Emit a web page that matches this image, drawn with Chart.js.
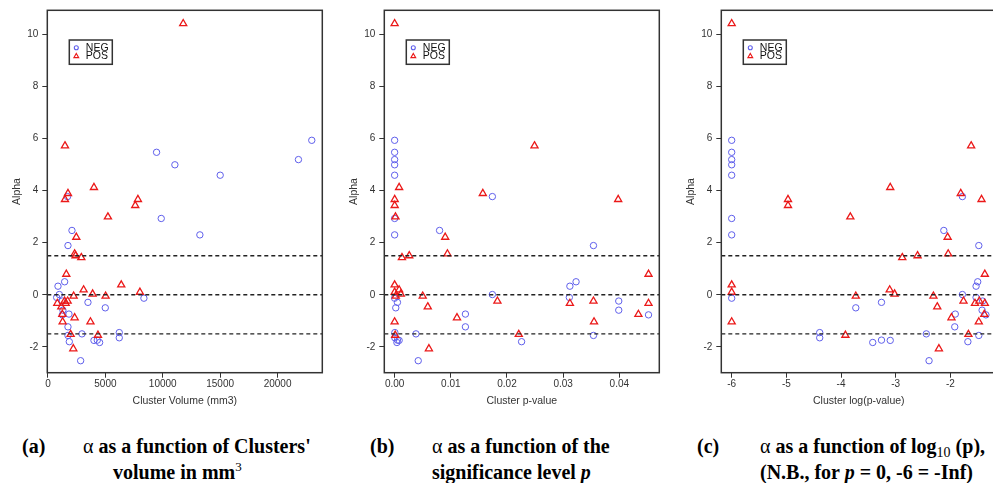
<!DOCTYPE html>
<html><head><meta charset="utf-8">
<script src="https://cdn.jsdelivr.net/npm/chart.js@4.4.1/dist/chart.umd.min.js"></script>
<style>
html,body{margin:0;padding:0;background:#fff;overflow:hidden;width:993px;height:483px;position:relative;}
.wrap{position:absolute;top:0;width:330px;height:410px;}
.wrap canvas{display:block;}
.cap{position:absolute;font-family:"Liberation Serif","Times New Roman",serif;font-weight:bold;font-size:20px;line-height:26px;color:#000;white-space:nowrap;}
.alpha{font-weight:normal;}
.sup{font-size:13px;font-weight:normal;position:relative;top:-8px;}
.sub{font-size:14px;font-weight:normal;position:relative;top:4px;}
</style></head><body>
<div class="wrap" style="left:0px"><canvas id="cA" width="330" height="410"></canvas></div>
<div class="wrap" style="left:337px"><canvas id="cB" width="330" height="410"></canvas></div>
<div class="wrap" style="left:674px"><canvas id="cC" width="330" height="410"></canvas></div>

<div class="cap" style="left:22px;top:433px">(a)</div>
<div class="cap" style="left:83px;top:433px"><span class="alpha">α</span> as a function of Clusters'</div>
<div class="cap" style="left:113px;top:459px">volume in mm<span class="sup">3</span></div>

<div class="cap" style="left:370px;top:433px">(b)</div>
<div class="cap" style="left:432px;top:433px"><span class="alpha">α</span> as a function of the</div>
<div class="cap" style="left:432px;top:459px">significance level <i>p</i></div>

<div class="cap" style="left:697px;top:433px">(c)</div>
<div class="cap" style="left:760px;top:433px"><span class="alpha">α</span> as a function of log<span class="sub">10</span> (p),</div>
<div class="cap" style="left:760px;top:459px">(N.B., for <i>p</i> = 0, -6 = -Inf)</div>

<script>
// ---------------- data ----------------
const seriesNames = ['NEG', 'POS'];

const negAlpha  = [5.93, 5.47, 5.19, 4.99, 4.59, 2.93, 2.30, -0.13, -1.45, -1.65, -0.50, -1.83, -1.74, -0.29, -1.75, -1.50, -2.53, 2.47, -0.74, -1.23, 3.77, 0.01, -1.80, 1.89, 0.50, 0.33, -0.10, -0.24, -0.59, -1.56, -0.77];
const negVolume = [22983, 9460, 21822, 11056, 15003, 9866, 13233, 8357, 6210, 6210, 4991, 4498, 4295, 3482, 4005, 2960, 2844, 2089, 1828, 1741, 1700, 987, 1857, 1741, 1451, 871, 755, 1248, 1300, 1741, 1250];
const negPValue = [0, 0, 0, 0, 0, 0, 0, 0, 0.00004, 0.00004, 0.0002, 0.0004, 0.0005, 0.0005, 0.0008, 0.0038, 0.0042, 0.0080, 0.0126, 0.0126, 0.0174, 0.0174, 0.0226, 0.0354, 0.0323, 0.0312, 0.0311, 0.0399, 0.0399, 0.0354, 0.0452];
const negLogP   = [-6, -6, -6, -6, -6, -6, -6, -6, -4.39, -4.39, -3.73, -3.42, -3.26, -3.26, -3.10, -2.44, -2.39, -2.12, -1.91, -1.92, -1.78, -1.78, -1.68, -1.48, -1.50, -1.53, -1.53, -1.41, -1.42, -1.48, -1.35];

const posAlpha  = [10.41, 5.72, 4.12, 3.89, 3.66, 3.43, 3.66, 2.99, 2.21, 1.57, 1.43, 1.50, 0.38, 0.10, 0.19, 0.03, -0.05, -0.05, -0.46, -2.07, -0.88, -0.24, -1.52, -0.33, -0.24, -1.04, 0.79, -0.33, -0.75, -1.04, -1.55];
const posVolume = [11782, 1480, 4005, 1741, 1480, 7603, 7835, 5223, 2467, 2322, 2902, 2400, 6384, 8009, 3105, 3889, 5020, 2234, 1161, 2205, 2322, 1712, 1973, 813, 1450, 3700, 1596, 1538, 1248, 1277, 4353];
const posPValue = [0, 0.0249, 0.0008, 0.0157, 0.00001, 0.00001, 0.0398, 0.00015, 0.0090, 0.0094, 0.0013, 0.0026, 0, 0, 0.0008, 0.0011, 0.0002, 0.0050, 0.0059, 0.0061, 0.0111, 0.0183, 0.0221, 0.0312, 0.0354, 0.0355, 0.0452, 0.0452, 0.0434, 0, 0.0001];
const posLogP   = [-6, -1.62, -3.10, -1.81, -4.97, -4.97, -1.43, -3.83, -2.05, -2.04, -2.88, -2.60, -6, -6, -3.11, -3.02, -3.73, -2.31, -2.24, -2.21, -1.98, -1.76, -1.67, -1.55, -1.47, -1.48, -1.37, -1.37, -1.38, -6, -3.92];

const thresholds   = [-1.5, 0, 1.5];
const alphaTicks   = [-2, 0, 2, 4, 6, 8, 10];
const volumeTicks  = [0, 5000, 10000, 15000, 20000];
const pValueTicks  = [0, 0.01, 0.02, 0.03, 0.04];
const logPTicks    = [-6, -5, -4, -3, -2];
const xTitles      = ['Cluster Volume (mm3)', 'Cluster p-value', 'Cluster log(p-value)'];
const yTitle       = 'Alpha';

// ---------------- styling ----------------
const NEG_COLOR = 'rgb(95,95,235)';
const POS_COLOR = 'rgb(235,25,25)';
const AXIS_COLOR = '#333';
const FONT = '"Liberation Sans", Arial, sans-serif';
const Y_MIN = -2.99, Y_MAX = 10.92;

const framePlugin = {
  id: 'rframe',
  afterDraw(chart) {
    const {ctx, chartArea: ca} = chart;
    ctx.save();
    ctx.strokeStyle = AXIS_COLOR;
    ctx.lineWidth = 1.5;
    ctx.strokeRect(ca.left, ca.top, ca.right - ca.left, ca.bottom - ca.top);
    // legend box (R style)
    const x = ca.left + 22, y = ca.top + 29.7, w = 43, h = 24.3;
    ctx.strokeRect(x, y, w, h);
    ctx.lineWidth = 1.1;
    ctx.strokeStyle = NEG_COLOR;
    ctx.beginPath(); ctx.arc(x + 7, y + 7.7, 2, 0, Math.PI * 2); ctx.stroke();
    ctx.strokeStyle = POS_COLOR;
    ctx.lineWidth = 1.2;
    const tx = x + 7, ty = y + 16.2, r = 2.7;
    ctx.beginPath();
    ctx.moveTo(tx, ty - r);
    ctx.lineTo(tx + r * 0.866, ty + r * 0.5);
    ctx.lineTo(tx - r * 0.866, ty + r * 0.5);
    ctx.closePath(); ctx.stroke();
    ctx.fillStyle = '#111';
    ctx.font = '10.5px ' + FONT;
    ctx.textBaseline = 'middle';
    ctx.textAlign = 'left';
    ctx.fillText(seriesNames[0], x + 16.5, y + 7.9);
    ctx.fillText(seriesNames[1], x + 16.5, y + 15.9);
    ctx.restore();
  }
};

function pts(xs, ys) { return xs.map((v, i) => ({x: v, y: ys[i]})); }

function makeChart(id, negX, posX, xMin, xMax, xTicks, xTitle, fmt) {
  const datasets = thresholds.map(t => ({
    type: 'line', data: [{x: xMin, y: t}, {x: xMax, y: t}],
    borderColor: '#222', borderWidth: 1.4, borderDash: [4, 3],
    pointRadius: 0, showLine: true, fill: false, order: 0
  }));
  datasets.push({
    label: seriesNames[0], data: pts(negX, negAlpha), pointStyle: 'circle',
    pointRadius: 3.2, borderColor: NEG_COLOR, backgroundColor: 'rgba(0,0,0,0)',
    pointBorderWidth: 1, borderWidth: 1, order: 2
  });
  datasets.push({
    label: seriesNames[1], data: pts(posX, posAlpha), pointStyle: 'triangle',
    pointRadius: 4.1, borderColor: POS_COLOR, backgroundColor: 'rgba(0,0,0,0)',
    pointBorderWidth: 1.3, borderWidth: 1.3, order: 1
  });
  return new Chart(document.getElementById(id), {
    type: 'scatter',
    data: {datasets},
    options: {
      responsive: false, animation: false, devicePixelRatio: 1,
      layout: {padding: {left: 0, right: 7.7, top: 10.3, bottom: 0}},
      plugins: {legend: {display: false}, tooltip: {enabled: false}},
      elements: {point: {hoverRadius: 3}},
      scales: {
        x: {
          type: 'linear', min: xMin, max: xMax,
          afterBuildTicks: s => { s.ticks = xTicks.map(v => ({value: v})); },
          afterFit: s => { s.height = 37.3; },
          border: {display: false},
          grid: {drawOnChartArea: false, drawTicks: true, tickLength: 5, color: AXIS_COLOR, tickWidth: 1},
          ticks: {padding: 1, color: '#333', font: {family: FONT, size: 10}, maxRotation: 0, autoSkip: false, callback: fmt},
          title: {display: true, text: xTitle, color: '#333', font: {family: FONT, size: 10.5}, padding: {top: 0, bottom: 2.7}}
        },
        y: {
          type: 'linear', min: Y_MIN, max: Y_MAX,
          afterBuildTicks: s => { s.ticks = alphaTicks.map(v => ({value: v})); },
          afterFit: s => { s.width = 47.3; },
          border: {display: false},
          grid: {drawOnChartArea: false, drawTicks: true, tickLength: 5, color: AXIS_COLOR, tickWidth: 1},
          ticks: {padding: 4, color: '#333', font: {family: FONT, size: 10}, callback: v => String(v)},
          title: {display: true, text: yTitle, color: '#333', font: {family: FONT, size: 10.5}, padding: {top: 10.7, bottom: 0}}
        }
      }
    },
    plugins: [framePlugin]
  });
}

makeChart('cA', negVolume, posVolume, -60, 23900, volumeTicks, xTitles[0], v => String(v));
makeChart('cB', negPValue, posPValue, -0.00184, 0.04712, pValueTicks, xTitles[1], v => v.toFixed(2));
makeChart('cC', negLogP, posLogP, -6.19, -1.16, logPTicks, xTitles[2], v => String(v));
</script>
</body></html>
